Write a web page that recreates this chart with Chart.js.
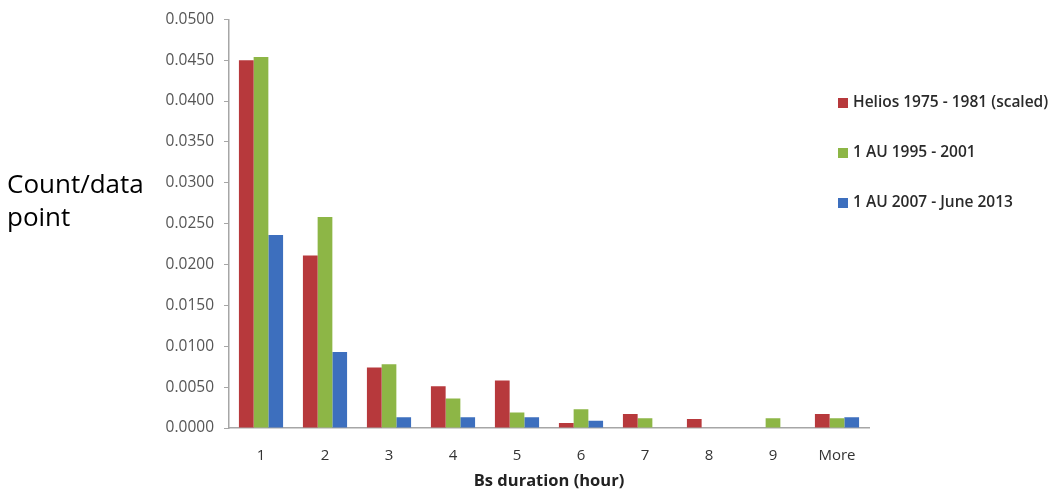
<!DOCTYPE html>
<html><head><meta charset="utf-8">
<script src="https://cdn.jsdelivr.net/npm/chart.js@4/dist/chart.umd.min.js"></script>
<style>html,body{margin:0;padding:0;background:#fff}#wrap{width:1063px;height:491px;position:relative}</style>
</head><body><div id="wrap"><canvas id="c" width="1063" height="491"></canvas></div>
<script>
const categories = ['1','2','3','4','5','6','7','8','9','More'];
const helios = [0.0450, 0.0211, 0.0074, 0.0051, 0.0058, 0.0006, 0.0017, 0.0011, 0, 0.0017];
const au9501 = [0.0454, 0.0258, 0.0078, 0.0036, 0.0019, 0.0023, 0.0012, 0, 0.0012, 0.0012];
const au0713 = [0.0236, 0.0093, 0.0013, 0.0013, 0.0013, 0.0009, 0, 0, 0, 0.0013];
const seriesLabels = ['Helios 1975 - 1981 (scaled)', '1 AU 1995 - 2001', '1 AU 2007 - June 2013'];
const colors = ['#B7393C', '#8DB646', '#3D6FBE'];
const yTitle = ['Count/data', 'point'];
const xTitle = 'Bs duration (hour)';

const extras = {
  id: 'extras',
  afterDraw(chart) {
    const ctx = chart.ctx;
    ctx.save();
    ctx.fillStyle = '#000';
    ctx.font = '26px "Open Sans"';
    ctx.textBaseline = 'middle';
    ctx.textAlign = 'left';
    ctx.fillText(yTitle[0], 7, 186);
    ctx.fillText(yTitle[1], 7, 219);
    ctx.font = '600 15.5px "Open Sans"';
    chart.data.datasets.forEach((ds, i) => {
      const y = 103 + i * 50;
      ctx.fillStyle = ds.backgroundColor;
      ctx.fillRect(838, y - 5, 10, 10);
      ctx.fillStyle = '#2a2a2a';
      ctx.fillText(ds.label, 853, y);
    });
    ctx.restore();
  }
};

new Chart(document.getElementById('c'), {
  type: 'bar',
  data: {
    labels: categories,
    datasets: [
      {label: seriesLabels[0], data: helios, backgroundColor: colors[0]},
      {label: seriesLabels[1], data: au9501, backgroundColor: colors[1]},
      {label: seriesLabels[2], data: au0713, backgroundColor: colors[2]}
    ]
  },
  options: {
    responsive: false,
    animation: false,
    devicePixelRatio: 1,
    layout: {padding: {left: 0, right: 194, top: 14, bottom: 0}},
    datasets: {bar: {categoryPercentage: 0.69, barPercentage: 1.0}},
    plugins: {legend: {display: false}, tooltip: {enabled: false}},
    scales: {
      x: {
        grid: {display: false},
        border: {display: true, color: '#A6A6A6', width: 1.5},
        ticks: {color: '#333', font: {family: 'Open Sans', size: 15}, padding: 11},
        title: {display: true, text: xTitle, color: '#222', font: {family: 'Open Sans', size: 16.5, weight: 'bold'}, padding: {top: 3, bottom: 0}},
        afterFit(s) { s.height = 63; }
      },
      y: {
        min: 0, max: 0.05,
        ticks: {stepSize: 0.005, color: '#555', font: {family: 'Open Sans', size: 15.5}, padding: 10,
          callback: v => Number(v).toFixed(4)},
        grid: {display: true, drawOnChartArea: false, drawTicks: true, tickLength: 5, color: '#A6A6A6'},
        border: {display: true, color: '#A6A6A6', width: 1.5},
        afterFit(s) { s.width = 229; }
      }
    }
  },
  plugins: [extras]
});
</script></body></html>
